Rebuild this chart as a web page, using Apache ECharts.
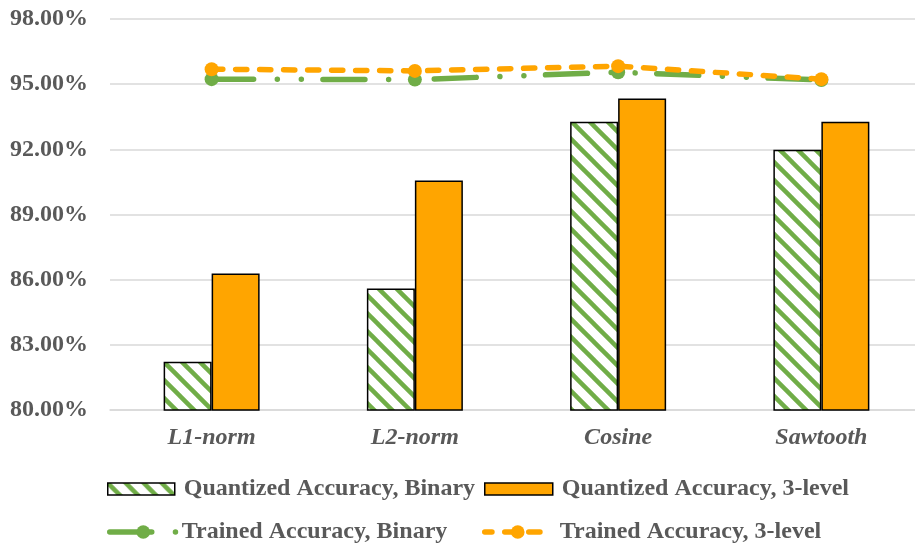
<!DOCTYPE html>
<html>
<head>
<meta charset="utf-8">
<script src="https://cdn.jsdelivr.net/npm/echarts@6/dist/echarts.min.js"></script>
<style>
  html, body { margin: 0; padding: 0; background: #fff; }
  #chart { width: 915px; height: 546px; }
</style>
</head>
<body>
<div id="chart"></div>
<script>
// Categories and accuracy values (%)
const categories = ['L1-norm', 'L2-norm', 'Cosine', 'Sawtooth'];
const quantizedBinary = [82.22, 85.59, 93.27, 91.98];
const quantized3Level = [86.28, 90.56, 94.34, 93.27];
const trainedBinary = [95.23, 95.21, 95.55, 95.19];
const trained3Level = [95.69, 95.61, 95.83, 95.23];
const yTicks = { min: 80, max: 98, step: 3 };

const GREEN = '#70AD47';
const ORANGE = '#FFA500';
const TEXT = '#595959';
const GRID = '#d9d9d9';
const FONT = '"Liberation Serif", "Times New Roman", serif';

// Dash patterns for the two trained-accuracy lines
const DASH_DOT_DOT = [42, 23.7, 0.01, 24, 0.01, 21.6];
const DASHED = [11.2, 12.8];

// Downward diagonal hatch tile: green stripes on white
function hatchTile() {
  const s = 18;
  const c = document.createElement('canvas');
  c.width = s; c.height = s;
  const g = c.getContext('2d');
  g.fillStyle = '#fff';
  g.fillRect(0, 0, s, s);
  g.strokeStyle = GREEN;
  g.lineWidth = 4.5;
  for (const k of [-s, 0, s]) {
    g.beginPath();
    g.moveTo(k - s, -s);
    g.lineTo(k + 2 * s, 2 * s);
    g.stroke();
  }
  return c;
}
const hatch = { image: hatchTile(), repeat: 'repeat' };

function legendFor(name, left, top, w, h, padLeft, extra) {
  return Object.assign({
    data: [name], left: left, top: top, itemWidth: w, itemHeight: h,
    padding: 0, selectedMode: false,
    textStyle: { fontFamily: FONT, fontSize: 24, fontWeight: 'bold', color: TEXT, padding: [0, 0, 0, padLeft] }
  }, extra || {});
}

const chart = echarts.init(document.getElementById('chart'), null, { renderer: 'canvas' });
chart.setOption({
  animation: false,
  backgroundColor: '#fff',
  grid: { left: 110, top: 19, width: 813, height: 391, containLabel: false, outerBoundsMode: 'none' },
  legend: [
    legendFor('Quantized Accuracy, Binary', 107, 477, 67, 12, 4,
      { icon: 'rect', itemStyle: { borderColor: '#000', borderWidth: 1.5 } }),
    legendFor('Quantized Accuracy, 3-level', 484, 477, 68, 12, 4,
      { icon: 'rect', itemStyle: { borderColor: '#000', borderWidth: 1.5 } }),
    legendFor('Trained Accuracy, Binary', 107, 520, 67, 17, 0,
      { lineStyle: { color: GREEN, width: 5.5, cap: 'round', type: DASH_DOT_DOT } }),
    legendFor('Trained Accuracy, 3-level', 482, 520, 66, 17, 4,
      { lineStyle: { color: ORANGE, width: 5.5, cap: 'round', type: DASHED, dashOffset: 4 } })
  ],
  xAxis: {
    type: 'category',
    data: categories,
    axisLine: { lineStyle: { color: GRID, width: 1.5 } },
    axisTick: { show: false },
    axisLabel: { fontFamily: FONT, fontSize: 24, fontWeight: 'bold', fontStyle: 'italic', color: TEXT, margin: 16 }
  },
  yAxis: {
    type: 'value',
    min: yTicks.min, max: yTicks.max, interval: yTicks.step,
    axisLine: { show: false },
    axisTick: { show: false },
    splitLine: { lineStyle: { color: GRID, width: 1.5 } },
    axisLabel: {
      fontFamily: FONT, fontSize: 24, fontWeight: 'bold', color: TEXT, margin: 22,
      formatter: v => v.toFixed(2) + '%'
    }
  },
  series: [
    {
      name: 'Quantized Accuracy, Binary', type: 'bar', data: quantizedBinary,
      barWidth: 48, barGap: '0%',
      itemStyle: { color: hatch, borderColor: '#000', borderWidth: 1.5 }
    },
    {
      name: 'Quantized Accuracy, 3-level', type: 'bar', data: quantized3Level,
      barWidth: 48, barGap: '0%',
      itemStyle: { color: ORANGE, borderColor: '#000', borderWidth: 1.5 }
    },
    {
      name: 'Trained Accuracy, Binary', type: 'line', data: trainedBinary,
      symbol: 'circle', symbolSize: 14,
      itemStyle: { color: GREEN },
      lineStyle: { color: GREEN, width: 5.5, cap: 'round', type: DASH_DOT_DOT },
      z: 3
    },
    {
      name: 'Trained Accuracy, 3-level', type: 'line', data: trained3Level,
      symbol: 'circle', symbolSize: 14,
      itemStyle: { color: ORANGE },
      lineStyle: { color: ORANGE, width: 5.5, cap: 'round', type: DASHED },
      z: 4
    }
  ]
});
</script>
</body>
</html>
